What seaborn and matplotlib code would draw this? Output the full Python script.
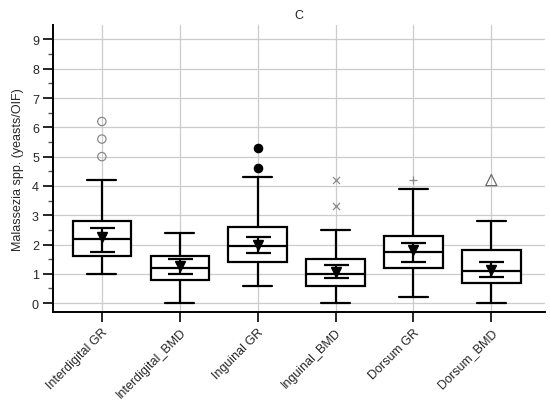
import numpy as np
import matplotlib.pyplot as plt
import seaborn as sns
from matplotlib.ticker import MultipleLocator

sns.set_style("ticks")
plt.rcParams["font.family"] = ["Liberation Sans", "DejaVu Sans"]
plt.rcParams["font.size"] = 9

# Values
groups = ["Interdigital GR", "Interdigital_BMD", "Inguinal GR",
          "Inguinal_BMD", "Dorsum GR", "Dorsum_BMD"]
whis_lo = [1.0, 0.0, 0.6, 0.0, 0.2, 0.0]
q1 = [1.6, 0.8, 1.4, 0.6, 1.2, 0.7]
medians = [2.2, 1.2, 1.95, 1.0, 1.75, 1.1]
q3 = [2.8, 1.6, 2.6, 1.5, 2.3, 1.8]
whis_hi = [4.2, 2.4, 4.3, 2.5, 3.9, 2.8]
means = [2.25, 1.25, 1.98, 1.05, 1.82, 1.14]
ci_lo = [1.75, 1.0, 1.72, 0.84, 1.39, 0.9]
ci_hi = [2.58, 1.5, 2.25, 1.31, 2.04, 1.39]
outliers = [[5.0, 5.6, 6.2], [], [4.6, 5.3], [3.3, 4.2], [4.2], [4.2]]

# outlier styles per group
out_marker = ["o", "o", "o", "x", "+", "^"]
out_face = ["none", "none", "black", "#8a8a8a", "#8a8a8a", "none"]
out_edge = ["#8a8a8a", "#8a8a8a", "black", "#8a8a8a", "#8a8a8a", "#6a6a6a"]
out_size = [6, 6, 6, 5, 6, 8]

fig, ax = plt.subplots(figsize=(5.5, 4.02), dpi=100)
fig.subplots_adjust(left=0.096, right=0.991, bottom=0.221, top=0.935)

pos = np.arange(len(groups))
stats = []
for i, g in enumerate(groups):
    stats.append(dict(label=g, whislo=whis_lo[i], q1=q1[i], med=medians[i],
                      q3=q3[i], whishi=whis_hi[i], fliers=[]))

line = dict(color="black", linewidth=1.6)
ax.bxp(stats, positions=pos, widths=0.75, capwidths=0.37, patch_artist=True,
       showfliers=False,
       boxprops=dict(facecolor="white", edgecolor="black", linewidth=1.6),
       medianprops=line, whiskerprops=line, capprops=line, zorder=3)

# mean with confidence interval
ax.errorbar(pos, means,
            yerr=[np.array(means) - np.array(ci_lo), np.array(ci_hi) - np.array(means)],
            fmt="v", color="black", markersize=7.5, ecolor="black", elinewidth=1.6,
            capsize=9, capthick=1.6, zorder=4)

for i, vals in enumerate(outliers):
    if not vals:
        continue
    if out_marker[i] in "x+":
        ax.scatter([pos[i]] * len(vals), vals, marker=out_marker[i], s=out_size[i] ** 2,
                   c=out_face[i], linewidths=0.9, zorder=4)
    else:
        ax.scatter([pos[i]] * len(vals), vals, marker=out_marker[i], s=out_size[i] ** 2,
                   facecolors=out_face[i], edgecolors=out_edge[i], linewidths=0.9, zorder=4)

ax.set_xlim(-0.63, 5.69)
ax.set_ylim(-0.31, 9.49)
ax.yaxis.set_major_locator(MultipleLocator(1))
ax.yaxis.set_minor_locator(MultipleLocator(0.5))
ax.set_xticks(pos)
ax.set_xticklabels(groups, rotation=45, ha="right", rotation_mode="anchor")
ax.tick_params(axis="both", which="major", length=7, width=1.2, color="black",
               labelsize=9, pad=3)
ax.tick_params(axis="y", which="minor", length=3.6, width=1.0, color="#555555")
ax.grid(True, which="major", color="#cccccc", linewidth=0.9, zorder=0)
ax.set_axisbelow(True)

sns.despine(ax=ax)
for s in ["left", "bottom"]:
    ax.spines[s].set_linewidth(1.4)
    ax.spines[s].set_color("black")

ax.set_ylabel("Malassezia spp. (yeasts/OIF)", fontsize=9, labelpad=6)
ax.set_title("C", fontsize=9, pad=5)

fig.savefig("out.png", dpi=100)
